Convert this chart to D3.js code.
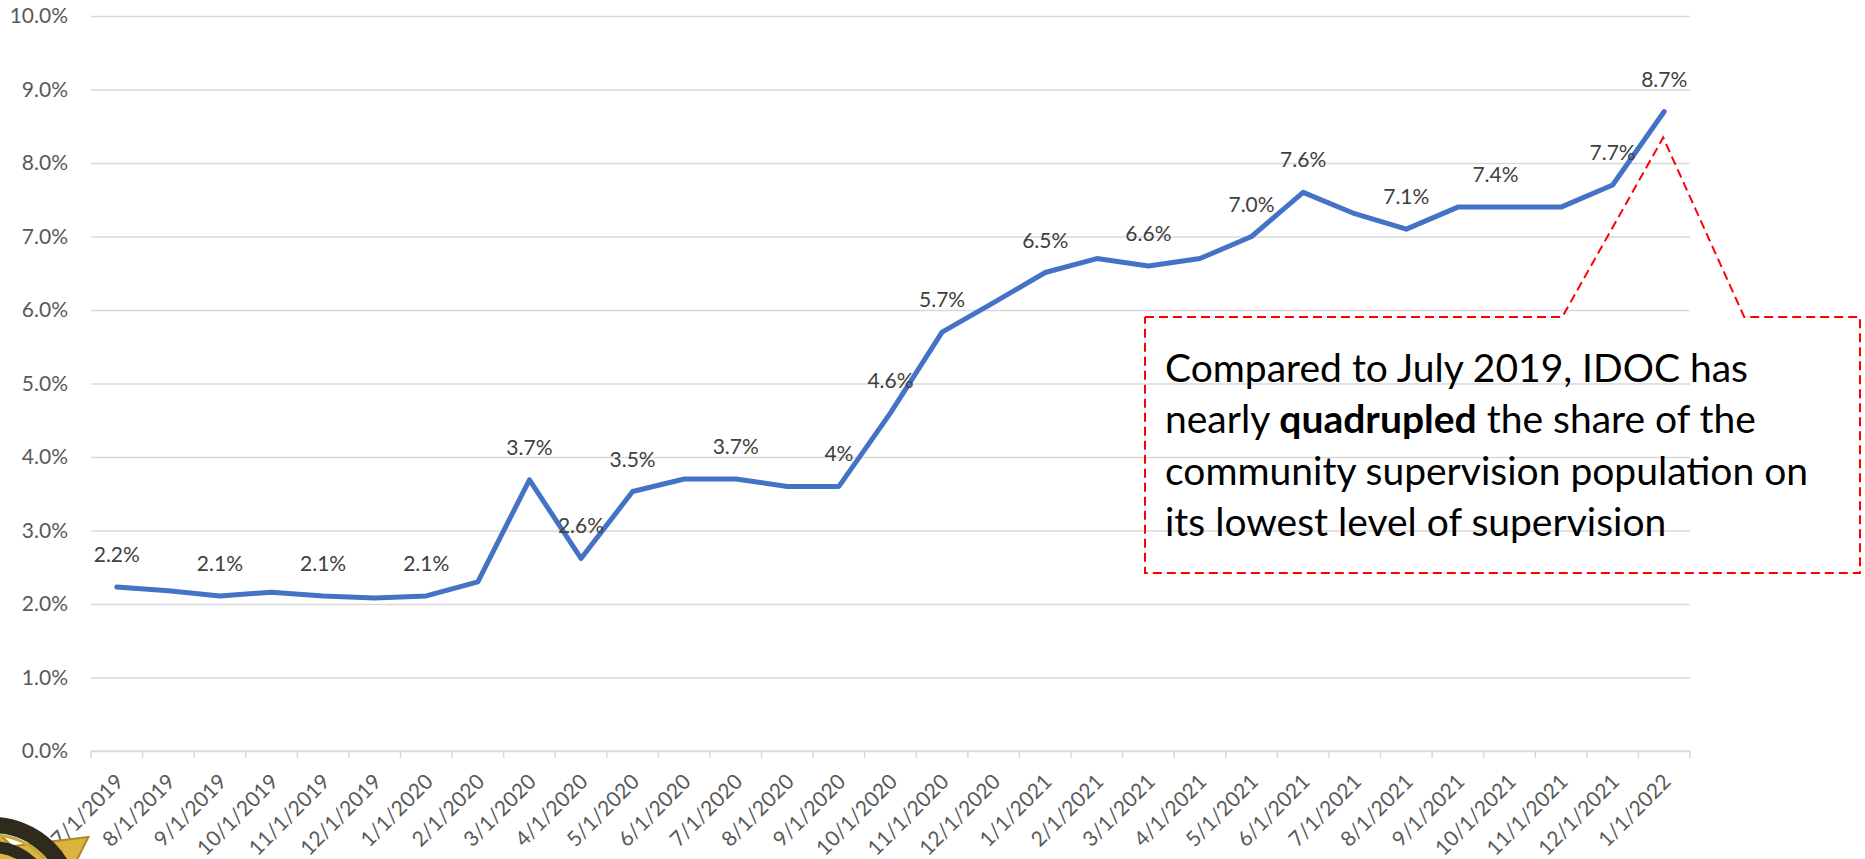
<!DOCTYPE html>
<html>
<head>
<meta charset="utf-8">
<script src="https://cdn.jsdelivr.net/npm/d3@7"></script>
<style>
  html, body { margin: 0; padding: 0; background: #fff; }
  svg { display: block; font-family: Lato, "Open Sans", sans-serif; }
</style>
</head>
<body>
<div id="chart"></div>
<script>
// monthly share of the community supervision population on the lowest level
const months = ["7/1/2019", "8/1/2019", "9/1/2019", "10/1/2019", "11/1/2019", "12/1/2019",
  "1/1/2020", "2/1/2020", "3/1/2020", "4/1/2020", "5/1/2020", "6/1/2020", "7/1/2020",
  "8/1/2020", "9/1/2020", "10/1/2020", "11/1/2020", "12/1/2020", "1/1/2021", "2/1/2021",
  "3/1/2021", "4/1/2021", "5/1/2021", "6/1/2021", "7/1/2021", "8/1/2021", "9/1/2021",
  "10/1/2021", "11/1/2021", "12/1/2021", "1/1/2022"];
const share = [2.23, 2.18, 2.11, 2.16, 2.11, 2.08, 2.11, 2.30, 3.69, 2.62, 3.53, 3.70, 3.70,
  3.60, 3.60, 4.60, 5.70, 6.10, 6.51, 6.70, 6.60, 6.70, 7.00, 7.60, 7.31, 7.10, 7.40,
  7.40, 7.40, 7.70, 8.70];
// data labels as they were shown (blank = no label)
const pointLabels = ["2.2%", "", "2.1%", "", "2.1%", "", "2.1%", "", "3.7%", "2.6%", "3.5%", "",
  "3.7%", "", "4%", "4.6%", "5.7%", "", "6.5%", "", "6.6%", "", "7.0%", "7.6%", "", "7.1%", "",
  "7.4%", "", "7.7%", "8.7%"];
const yTicks = [0, 1, 2, 3, 4, 5, 6, 7, 8, 9, 10];
const noteLines = [
  [{ t: "Compared to July 2019, IDOC has" }],
  [{ t: "nearly " }, { t: "quadrupled", b: true }, { t: " the share of the" }],
  [{ t: "community supervision population on" }],
  [{ t: "its lowest level of supervision" }]
];

const W = 1865, H = 859;
const margin = { top: 16, right: 175, bottom: 108, left: 91 };
const width = W - margin.left - margin.right;
const height = H - margin.top - margin.bottom;

const svg = d3.select("#chart").append("svg")
  .attr("width", W)
  .attr("height", H);

const g = svg.append("g")
  .attr("transform", "translate(" + margin.left + "," + margin.top + ")");

const x = d3.scaleBand().domain(months).range([0, width]).padding(0);
const y = d3.scaleLinear().domain([0, 10]).range([height, 0]);
const cx = d => x(d) + x.bandwidth() / 2;

// gridlines + y labels
const yAxis = d3.axisLeft(y)
  .tickValues(yTicks)
  .tickSize(-width)
  .tickPadding(23)
  .tickFormat(d => d.toFixed(1) + "%");

g.append("g")
  .call(yAxis)
  .call(s => s.select(".domain").remove())
  .call(s => s.selectAll(".tick line").attr("stroke", "#d9d9d9").attr("stroke-width", 1.5))
  .call(s => s.selectAll(".tick text")
    .attr("fill", "#595959")
    .style("font-size", "21px")
    .style("font-family", "Lato"));

// badge sits behind the first x labels
const badge = svg.append("g").attr("transform", "translate(-8,905)");
const star = d3.range(10).map(i => {
  const a = -Math.PI / 2 + i * Math.PI / 5 - 0.3;
  const r = i % 2 === 0 ? 118 : 62;
  return [r * Math.cos(a), r * Math.sin(a)];
});
badge.append("path").attr("d", d3.line()(star) + "Z")
  .attr("fill", "#d9b440").attr("stroke", "#b08a20").attr("stroke-width", 2);
badge.append("circle").attr("r", 80).attr("fill", "none")
  .attr("stroke", "#2e2a1c").attr("stroke-width", 16);
badge.append("circle").attr("r", 70).attr("fill", "none")
  .attr("stroke", "#c9a83a").attr("stroke-width", 3);
badge.append("circle").attr("r", 58).attr("fill", "none")
  .attr("stroke", "#2e2a1c").attr("stroke-width", 12);

// x axis: ticks sit on category boundaries
const bounds = months.map(m => x(m)).concat([width]);
const xg = g.append("g").attr("transform", "translate(0," + height + ")");
xg.append("line")
  .attr("x1", 0).attr("x2", width)
  .attr("stroke", "#d9d9d9").attr("stroke-width", 1.5);
xg.selectAll(".tk").data(bounds).join("line")
  .attr("class", "tk")
  .attr("x1", d => d).attr("x2", d => d)
  .attr("y1", 0).attr("y2", 7)
  .attr("stroke", "#d9d9d9").attr("stroke-width", 1.5);
xg.selectAll(".lbl").data(months).join("text")
  .attr("class", "lbl")
  .attr("text-anchor", "end")
  .attr("transform", d => "translate(" + (cx(d) + 8) + ",32) rotate(-45)")
  .attr("fill", "#595959")
  .style("font-size", "21px")
  .text(d => d);

// the line
const pts = months.map((m, i) => ({ m: m, v: share[i], label: pointLabels[i] }));
g.append("path")
  .datum(pts)
  .attr("fill", "none")
  .attr("stroke", "#4472c4")
  .attr("stroke-width", 5)
  .attr("stroke-linejoin", "round")
  .attr("stroke-linecap", "round")
  .attr("d", d3.line().x(d => cx(d.m)).y(d => y(d.v)));

// data labels (one was dragged a little to the side in the original)
const nudge = { "10/1/2021": -14 };
g.selectAll(".dl").data(pts.filter(d => d.label)).join("text")
  .attr("class", "dl")
  .attr("text-anchor", "middle")
  .attr("x", d => cx(d.m) + (nudge[d.m] || 0))
  .attr("y", d => y(d.v) - 25)
  .attr("fill", "#404040")
  .style("font-size", "21px")
  .text(d => d.label);

// callout box pointing at the last value
const last = pts[pts.length - 1];
const tipX = margin.left + cx(last.m) - 1;
const tipY = margin.top + y(last.v) + 26;
const box = { x0: 1145, x1: 1860, y0: 317, y1: 573 };
svg.append("path")
  .attr("d", d3.line()([
    [box.x0, box.y0], [tipX - 101, box.y0], [tipX, tipY], [tipX + 81, box.y0],
    [box.x1, box.y0], [box.x1, box.y1], [box.x0, box.y1], [box.x0, box.y0]
  ]))
  .attr("fill", "none")
  .attr("stroke", "#ff0000")
  .attr("stroke-width", 2)
  .attr("stroke-dasharray", "9,5");

const note = svg.append("text")
  .attr("fill", "#000")
  .style("font-size", "39px");
noteLines.forEach((line, i) => {
  line.forEach((part, j) => {
    const sp = note.append("tspan")
      .text(part.t)
      .attr("font-weight", part.b ? 700 : 400);
    if (j === 0) sp.attr("x", 1165).attr("y", 382 + i * 51.3);
  });
});
</script>
</body>
</html>
